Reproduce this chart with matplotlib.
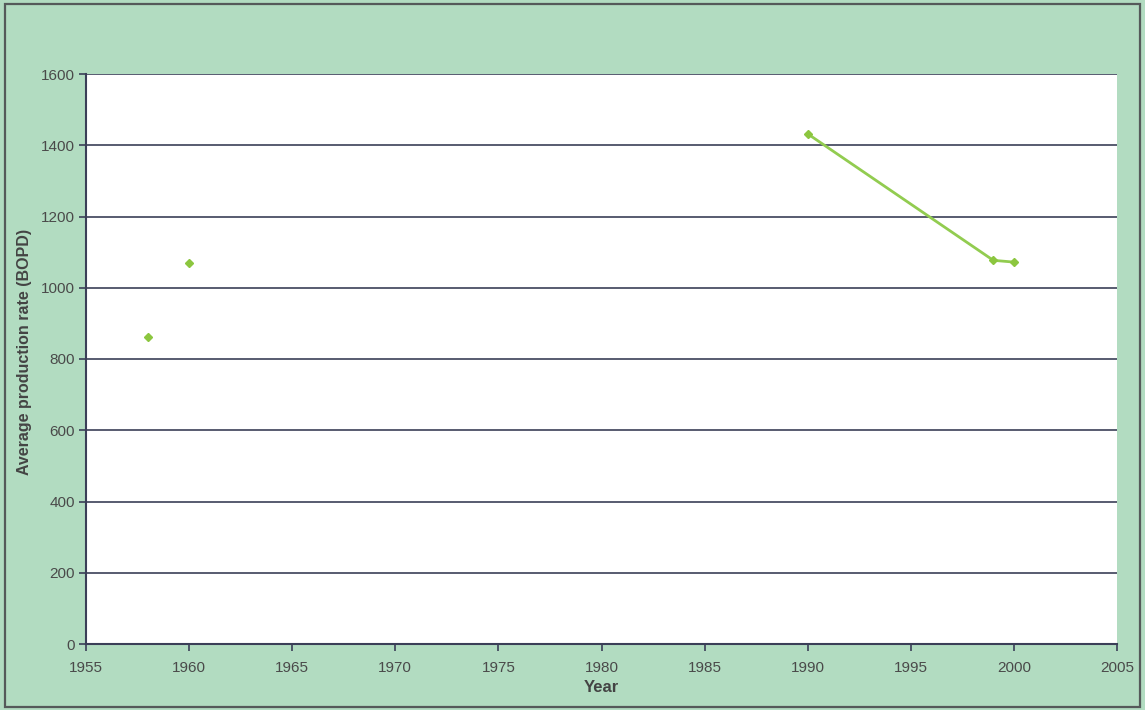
import numpy as np
import matplotlib
matplotlib.use("Agg")
import matplotlib.pyplot as plt
from matplotlib.patches import Rectangle

# Average production rate by year (gaps mark years with no contiguous data)
years = [1958, 1959, 1960, 1961, 1990, 1999, 2000]
rate = [862, np.nan, 1070, np.nan, 1432, 1077, 1072]

x_ticks = [1955, 1960, 1965, 1970, 1975, 1980, 1985, 1990, 1995, 2000, 2005]
y_ticks = [0, 200, 400, 600, 800, 1000, 1200, 1400, 1600]

plt.rcParams['font.family'] = ['Liberation Sans', 'DejaVu Sans']

bg = '#b2dcc1'
grid_c = '#3b3f58'
green = '#8cc63f'

fig = plt.figure(figsize=(11.45, 7.10), dpi=100, facecolor=bg)
fig.patches.append(Rectangle((0.004, 0.004), 0.992, 0.99, transform=fig.transFigure,
                             fill=False, edgecolor='#555a5a', linewidth=1.6))

ax = fig.add_axes([86 / 1145, 1 - 644 / 710, (1117 - 86) / 1145, (644 - 74) / 710])
ax.set_facecolor('white')

ax.plot(years, rate, color='#92cc50', linewidth=2.0, marker='D', markersize=4.5,
        markerfacecolor=green, markeredgecolor=green, zorder=3)

ax.set_xlim(1955, 2005)
ax.set_ylim(0, 1600)
ax.set_xticks(x_ticks)
ax.set_yticks(y_ticks)
ax.yaxis.grid(True, color=grid_c, linewidth=1.2)
ax.set_axisbelow(True)

for side in ['top', 'right']:
    ax.spines[side].set_visible(False)
for side in ['left', 'bottom']:
    ax.spines[side].set_color(grid_c)
    ax.spines[side].set_linewidth(1.5)

ax.tick_params(axis='both', colors=grid_c, labelcolor='#4a4a4a', labelsize=11, length=5, width=1.2)
ax.tick_params(axis='x', pad=7)
ax.tick_params(axis='y', pad=3)

ax.set_xlabel('Year', fontsize=12, fontweight='bold', color='#444444', labelpad=4)
ax.set_ylabel('Average production rate (BOPD)', fontsize=11.5, fontweight='bold', color='#444444')
ax.yaxis.set_label_coords(-0.052, 0.512)

fig.savefig('out.png', dpi=100, facecolor=bg)
